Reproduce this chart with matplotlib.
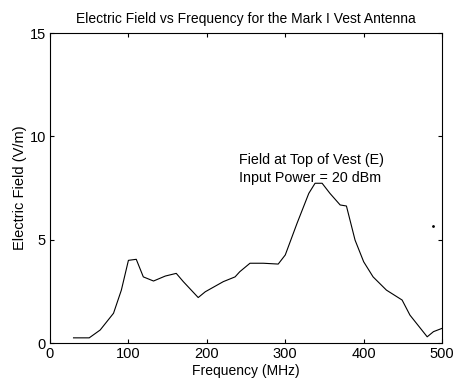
import numpy as np
import matplotlib.pyplot as plt

plt.rcParams['font.family'] = ['Liberation Sans', 'DejaVu Sans']

# Field strength vs frequency
freq_mhz = [30, 50, 64, 81, 91, 100, 110, 119, 132, 147, 161, 170, 189,
            198, 221, 236, 242, 255, 272, 291, 300, 315, 330, 338, 347,
            357, 370, 378, 389, 400, 412, 429, 449, 459, 481, 489, 500]
field_vm = [0.25, 0.25, 0.63, 1.44, 2.56, 4.0, 4.05, 3.2, 3.0, 3.24, 3.37,
            2.97, 2.2, 2.48, 2.97, 3.2, 3.45, 3.86, 3.86, 3.82, 4.26, 5.79,
            7.24, 7.73, 7.73, 7.24, 6.68, 6.63, 4.98, 3.93, 3.2, 2.56, 2.08,
            1.35, 0.3, 0.55, 0.71]
stray_pt = (489, 5.66)

fig = plt.figure(figsize=(4.57, 3.83), dpi=100)
ax = fig.add_axes([0.1094, 0.1044, 0.858, 0.8094])

ax.plot(freq_mhz, field_vm, color='black', lw=0.8)
ax.plot([stray_pt[0]], [stray_pt[1]], 'k.', ms=2)

ax.set_xlim(0, 500)
ax.set_ylim(0, 15)
ax.set_xticks([0, 100, 200, 300, 400, 500])
ax.set_yticks([0, 5, 10, 15])
ax.tick_params(direction='in', length=3, width=0.8, top=True, right=True,
               labelsize=10.5, pad=3)
for s in ax.spines.values():
    s.set_linewidth(0.8)

ax.set_xlabel('Frequency (MHz)', fontsize=10, labelpad=2)
ax.set_ylabel('Electric Field (V/m)', fontsize=10.5, labelpad=2)
ax.set_title('Electric Field vs Frequency for the Mark I Vest Antenna',
             fontsize=10, pad=7)

ax.text(241, 8.65, 'Field at Top of Vest (E)', fontsize=10.3)
ax.text(241, 7.8, 'Input Power = 20 dBm', fontsize=10.3)

fig.savefig('out.png', dpi=100)
